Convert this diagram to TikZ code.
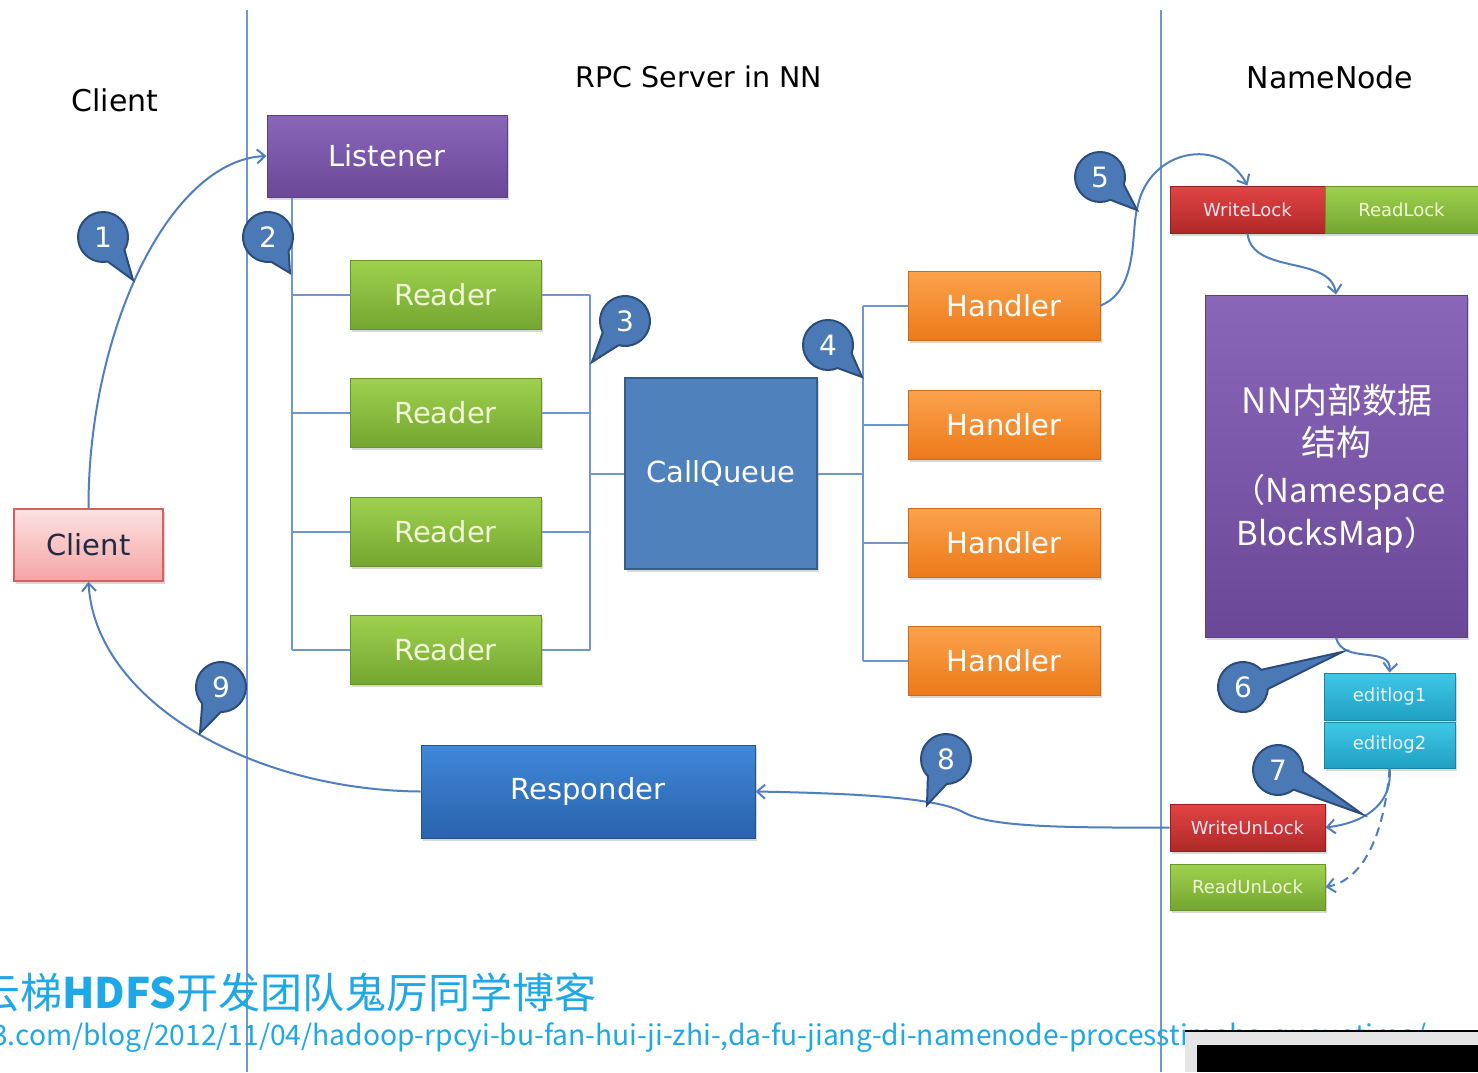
\documentclass[tikz,border=0pt]{standalone}
\usepackage{fontspec}
\setmainfont{DejaVu Sans}
\newfontfamily\cjk{Noto Sans CJK SC}
\usetikzlibrary{calc,shadows,arrows.meta}
\definecolor{lineblue}{HTML}{6F97CF}
\definecolor{arrblue}{HTML}{4F7FC0}
\definecolor{pTop}{HTML}{8A66B9}
\definecolor{pBot}{HTML}{6A4897}
\definecolor{pBrd}{HTML}{5C3F85}
\definecolor{gTop}{HTML}{9FD14E}
\definecolor{gBot}{HTML}{74A631}
\definecolor{gBrd}{HTML}{66952A}
\definecolor{oTop}{HTML}{FCA24C}
\definecolor{oBot}{HTML}{EC7A1A}
\definecolor{oBrd}{HTML}{D06A14}
\definecolor{cqFill}{HTML}{4F81BD}
\definecolor{cqBrd}{HTML}{385D8A}
\definecolor{bTop}{HTML}{3F88D8}
\definecolor{bBot}{HTML}{2A62AD}
\definecolor{bBrd}{HTML}{23528F}
\definecolor{rTop}{HTML}{E24444}
\definecolor{rBot}{HTML}{B02828}
\definecolor{rBrd}{HTML}{922020}
\definecolor{cTop}{HTML}{3FC8E8}
\definecolor{cBot}{HTML}{20A0C2}
\definecolor{cBrd}{HTML}{1A86A3}
\definecolor{kTop}{HTML}{FDE2E2}
\definecolor{kBot}{HTML}{F5A4A4}
\definecolor{kBrd}{HTML}{D65F5F}
\definecolor{callF}{HTML}{4A79B5}
\definecolor{callB}{HTML}{2B4D7D}
\definecolor{webblue}{HTML}{1EA8E8}
\newcommand\myfs[1]{\fontsize{#1}{#1}\selectfont}
\newcommand\callout[4]{%
  \coordinate (#1c) at #2;
  \coordinate (#1t) at #3;
  \path[callshape] let \p1=($(#1t)-(#1c)$), \n1={atan2(\y1,\x1)} in
    ($(#1c)+({\n1+24}:25pt)$) -- (#1t) -- ($(#1c)+({\n1-24}:25pt)$)
    arc[start angle=\n1-24, end angle=\n1+24-360, radius=25pt] -- cycle;
  \node[callnum] (#1) at (#1c) {#4};
}
\begin{document}
\begin{tikzpicture}[x=1pt,y=-1pt,
  title/.style={font=\myfs{30}, text=black, inner sep=0pt},
  blk/.style={rectangle, inner sep=0pt, line width=1pt, font=\myfs{29},
    drop shadow={opacity=0.3, shadow xshift=2pt, shadow yshift=-3pt}},
  purplebox/.style={blk, top color=pTop, bottom color=pBot, draw=pBrd, text=white},
  greenbox/.style={blk, top color=gTop, bottom color=gBot, draw=gBrd, text={rgb,255:red,240;green,246;blue,214}},
  orangebox/.style={blk, top color=oTop, bottom color=oBot, draw=oBrd, text=white},
  bluebox/.style={blk, top color=bTop, bottom color=bBot, draw=bBrd, text=white},
  redbox/.style={blk, top color=rTop, bottom color=rBot, draw=rBrd, text={rgb,255:red,250;green,228;blue,240}, font=\myfs{18}},
  lgreenbox/.style={greenbox, font=\myfs{18}},
  cyanbox/.style={blk, top color=cTop, bottom color=cBot, draw=cBrd, text={rgb,255:red,232;green,246;blue,252}, font=\myfs{18}},
  nntxt/.style={text=white, inner sep=0pt},
  conn/.style={draw=lineblue, line width=2pt},
  arr/.style={draw=arrblue, line width=2pt, -{Straight Barb[length=8pt,width=14pt]}},
  callshape/.style={fill=callF, draw=callB, line width=2pt},
  callnum/.style={circle, inner sep=0pt, minimum size=50pt, text=white, font=\myfs{28}},
  divider/.style={draw=lineblue, line width=2pt}
]
\useasboundingbox (0,0) rectangle (1478,1072);
\clip (0,0) rectangle (1478,1072);
\fill[white] (0,0) rectangle (1478,1072);

% dividers
\draw[divider] (247,10) -- (247,1072);
\draw[divider] (1161,10) -- (1161,1072);

% titles
\node[title] (tcl) at (115,100) {Client};
\node[title, font=\myfs{28.5}] (trpc) at (699,77) {RPC Server in NN};
\node[title] (tnn) at (1330,77) {NameNode};

% boxes
\node[purplebox, minimum width=240pt, minimum height=82pt] (lis) at (387,156) {Listener};
\node[greenbox, minimum width=191pt, minimum height=69pt] (r1) at (445.5,294.5) {Reader};
\node[greenbox, minimum width=191pt, minimum height=69pt] (r2) at (445.5,412.5) {Reader};
\node[greenbox, minimum width=191pt, minimum height=69pt] (r3) at (445.5,531.5) {Reader};
\node[greenbox, minimum width=191pt, minimum height=69pt] (r4) at (445.5,649.5) {Reader};
\node[blk, fill=cqFill, draw=cqBrd, line width=2pt, text=white, minimum width=192pt, minimum height=191pt, drop shadow={opacity=0}] (cq) at (721,473.5) {CallQueue};
\node[orangebox, minimum width=192pt, minimum height=69pt] (h1) at (1004,305.5) {Handler};
\node[orangebox, minimum width=192pt, minimum height=69pt] (h2) at (1004,424.5) {Handler};
\node[orangebox, minimum width=192pt, minimum height=69pt] (h3) at (1004,542.5) {Handler};
\node[orangebox, minimum width=192pt, minimum height=69pt] (h4) at (1004,660.5) {Handler};
\node[blk, top color=kTop, bottom color=kBot, draw=kBrd, line width=1.5pt,
  text={rgb,255:red,31;green,42;blue,68}, minimum width=149pt, minimum height=72pt] (cl) at (88.5,545) {Client};
\node[bluebox, minimum width=334pt, minimum height=93pt] (resp) at (588,791.5) {Responder};

\node[redbox, minimum width=155pt, minimum height=47pt] (wl) at (1247.5,209.5) {WriteLock};
\node[lgreenbox, minimum width=153pt, minimum height=47pt] (rl) at (1401.5,209.5) {ReadLock};
\node[purplebox, minimum width=262pt, minimum height=342pt] (nn) at (1336,466) {};
\node[nntxt, font=\cjk\myfs{35}] (nnt1) at (1337,400) {NN内部数据};
\node[nntxt, font=\cjk\myfs{35}] (nnt2) at (1336,442) {结构};
\node[nntxt, font=\cjk\myfs{33}] (nnt3) at (1339,492) {（Namespace};
\node[nntxt, font=\cjk\myfs{33}] (nnt4) at (1337,535) {BlocksMap）};
\node[cyanbox, minimum width=131pt, minimum height=47pt] (el1) at (1389.5,696.5) {editlog1};
\node[cyanbox, minimum width=131pt, minimum height=46pt] (el2) at (1389.5,745) {editlog2};
\node[redbox, minimum width=155pt, minimum height=47pt] (wul) at (1247.5,827.5) {WriteUnLock};
\node[lgreenbox, minimum width=155pt, minimum height=46pt] (rul) at (1247.5,887) {ReadUnLock};

% Listener -> readers tree
\draw[conn] (lis.south -| 292,0) -- (292,0 |- r4.west);
\foreach \r in {r1,r2,r3,r4} \draw[conn] (292,0 |- \r.west) -- (\r.west);
% readers -> callqueue bus
\foreach \r in {r1,r2,r3,r4} \draw[conn] (\r.east) -- (590,0 |- \r.east);
\draw[conn] (590,0 |- r1.east) -- (590,0 |- r4.east);
\draw[conn] (590,0 |- cq.west) -- (cq.west);
% callqueue -> handlers bus
\draw[conn] (cq.east) -- (863,0 |- cq.east);
\draw[conn] (863,0 |- h1.west) -- (863,0 |- h4.west);
\foreach \h in {h1,h2,h3,h4} \draw[conn] (863,0 |- \h.west) -- (\h.west);

% arrows
\draw[arr] (cl.north) .. controls (88,330) and (170,160) .. (lis.west);
\draw[arr] (resp.west) .. controls (250,790) and (95,700) .. (cl.south);
\draw[arr] (wul.west) .. controls (1050,828) and (990,826) .. (965,813)
  .. controls (945,802) and (900,794) .. (resp.east);
\draw[arr] (h1.east) .. controls (1140,290) and (1130,230) .. (1138,205)
  .. controls (1150,150) and (1220,135) .. (wl.north);
\draw[arr] (wl.south) .. controls (1252,275) and (1330,255) .. (nn.north);
\draw[arr] (nn.south) .. controls (1342,665) and (1392,645) .. (el1.north);
\draw[arr] (el2.south) .. controls (1393,800) and (1370,822) .. (wul.east);
\draw[arr, dash pattern=on 9pt off 6pt] (el2.south) .. controls (1385,830) and (1365,880) .. (rul.east);

% callouts
\callout{c1}{(103,237)}{(133,280)}{1}
\callout{c2}{(268,237)}{(290,273)}{2}
\callout{c3}{(625,321)}{(592,362)}{3}
\callout{c4}{(828,345)}{(862,377)}{4}
\callout{c5}{(1100,177)}{(1137,210)}{5}
\callout{c6}{(1243,687)}{(1342,652)}{6}
\callout{c7}{(1278,770)}{(1362,814)}{7}
\callout{c8}{(946,759)}{(927,805)}{8}
\callout{c9}{(221,687)}{(200,733)}{9}

% bottom texts
\node[anchor=base west, inner sep=0pt, text=webblue, font=\cjk\myfs{42}] (blog) at (-22,1008)
  {云梯\textbf{HDFS}开发团队鬼厉同学博客};
\node[anchor=base west, inner sep=0pt, text=webblue, font=\cjk\myfs{28.2}] (url) at (-8,1045)
  {3.com/blog/2012/11/04/hadoop-rpcyi-bu-fan-hui-ji-zhi-,da-fu-jiang-di-namenode-processtimehe-queuetime/};

% overlay window
\fill[black!10] (1185,1031) rectangle (1478,1072);
\draw[black, line width=1.5pt] (1185,1031) -- (1478,1031);
\fill[black] (1197,1045) rectangle (1478,1072);
\end{tikzpicture}
\end{document}
